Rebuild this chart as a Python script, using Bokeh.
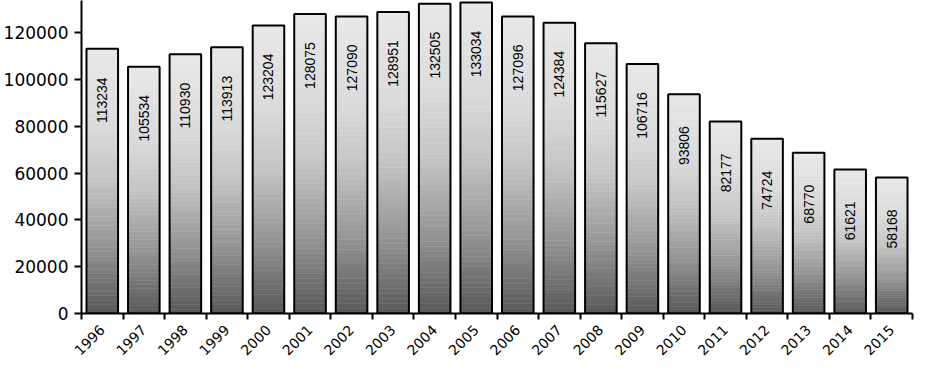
import math
from bokeh.plotting import figure
from bokeh.models import ColumnDataSource, FixedTicker, NumeralTickFormatter
from bokeh.core.properties import value
from bokeh.embed import file_html
from bokeh.resources import INLINE

years = ["1996", "1997", "1998", "1999", "2000", "2001", "2002", "2003", "2004", "2005",
         "2006", "2007", "2008", "2009", "2010", "2011", "2012", "2013", "2014", "2015"]
counts = [113234, 105534, 110930, 113913, 123204, 128075, 127090, 128951, 132505, 133034,
          127096, 124384, 115627, 106716, 93806, 82177, 74724, 68770, 61621, 58168]
y_ticks = [0, 20000, 40000, 60000, 80000, 100000, 120000]

# gradient styling (t = 0 top of bar, 1 bottom): grey levels
GRAD = [(0.0, 232), (0.3, 218), (0.5, 196), (0.75, 148), (1.0, 88)]
N_SLICES = 60
BAR_W = 0.76
LABEL_DROP = 22000
AXIS_FONT = "DejaVu Sans"


def grey(t):
    for (t0, g0), (t1, g1) in zip(GRAD[:-1], GRAD[1:]):
        if t0 <= t <= t1:
            g = int(round(g0 + (g1 - g0) * (t - t0) / (t1 - t0)))
            return "#%02x%02x%02x" % (g, g, g)
    return "#5c5c5c"


xs = list(range(len(years)))

sx, sb, st, sc = [], [], [], []
for i, v in zip(xs, counts):
    for k in range(N_SLICES):
        sx.append(i)
        sb.append(v * k / N_SLICES)
        st.append(v * (k + 1) / N_SLICES)
        sc.append(grey(1 - (k + 0.5) / N_SLICES))
slices = ColumnDataSource(dict(x=sx, bottom=sb, top=st, color=sc))

src = ColumnDataSource(dict(x=xs, top=counts, label=[str(c) for c in counts],
                            ly=[c - LABEL_DROP for c in counts]))

p = figure(width=914, height=362, output_backend="svg", toolbar_location=None,
           x_range=(-0.5, len(years) - 0.5), y_range=(0, 133900),
           min_border_left=75, min_border_right=2, min_border_top=0, min_border_bottom=0)
p.outline_line_color = None
p.grid.grid_line_color = None
p.background_fill_color = "white"
p.border_fill_color = "white"

p.vbar(x="x", bottom="bottom", top="top", width=BAR_W, source=slices,
       fill_color="color", line_color="color", line_width=0.5)
p.vbar(x="x", bottom=0, top="top", width=BAR_W, source=src,
       fill_color=None, line_color="black", line_width=2)

p.text(x="x", y="ly", text="label", source=src, angle=math.pi / 2,
       text_align="center", text_baseline="middle",
       text_font=value("Liberation Sans"), text_font_size="14px", text_color="black")

# x axis: labels at category centres, ticks at category boundaries
xa = p.xaxis[0]
xa.ticker = FixedTicker(ticks=xs, minor_ticks=[i - 0.5 for i in range(len(years) + 1)])
xa.major_label_overrides = {i: y for i, y in zip(xs, years)}
xa.major_label_orientation = math.pi / 4
xa.major_tick_in = 0
xa.major_tick_out = 0
xa.minor_tick_in = 0
xa.minor_tick_out = 6
xa.minor_tick_line_color = "black"
xa.minor_tick_line_width = 2
xa.axis_line_color = "black"
xa.axis_line_width = 2
xa.major_label_text_font = AXIS_FONT
xa.major_label_text_font_size = "14px"
xa.major_label_text_line_height = 0.6
xa.major_label_text_color = "black"
xa.major_label_standoff = 8

# y axis
ya = p.yaxis[0]
ya.ticker = FixedTicker(ticks=y_ticks)
ya.formatter = NumeralTickFormatter(format="0")
ya.major_tick_in = 0
ya.major_tick_out = 7
ya.minor_tick_line_color = None
ya.major_tick_line_width = 2
ya.major_tick_line_color = "black"
ya.axis_line_color = "black"
ya.axis_line_width = 2
ya.major_label_text_font = AXIS_FONT
ya.major_label_text_font_size = "17px"
ya.major_label_text_color = "black"
ya.major_label_standoff = 6

open("out.html", "w").write(file_html(p, INLINE))
